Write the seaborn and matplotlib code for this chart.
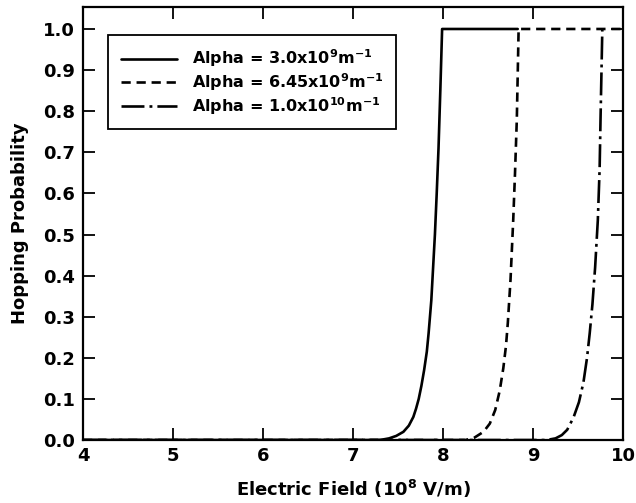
import numpy as np
import pandas as pd
import matplotlib
matplotlib.use("Agg")
import matplotlib.pyplot as plt
import seaborn as sns

# Hopping probability vs. electric field (10^8 V/m) for three decay constants
field_a = [4.0, 7.30, 7.40, 7.48, 7.56, 7.62, 7.67, 7.70, 7.73, 7.76, 7.79, 7.82,
           7.84, 7.87, 7.89, 7.91, 7.93, 7.95, 7.97, 7.99, 8.83]
prob_a = [0.0, 0.0, 0.004, 0.010, 0.020, 0.035, 0.056, 0.076, 0.100, 0.132, 0.170, 0.215,
          0.26, 0.34, 0.42, 0.50, 0.60, 0.71, 0.85, 1.0, 1.0]

field_b = [4.0, 8.25, 8.35, 8.45, 8.52, 8.58, 8.63, 8.67, 8.70, 8.72, 8.75, 8.78,
           8.80, 8.82, 8.83, 8.84, 10.0]
prob_b = [0.0, 0.0, 0.006, 0.020, 0.040, 0.073, 0.12, 0.175, 0.23, 0.285, 0.39, 0.535,
          0.65, 0.78, 0.89, 1.0, 1.0]

field_c = [4.0, 9.15, 9.25, 9.32, 9.38, 9.45, 9.51, 9.56, 9.60, 9.63, 9.66, 9.69,
           9.72, 9.74, 9.75, 9.76, 9.77]
prob_c = [0.0, 0.0, 0.004, 0.012, 0.025, 0.055, 0.092, 0.14, 0.20, 0.26, 0.33, 0.42,
          0.535, 0.66, 0.78, 0.89, 1.0]

labels = [r"Alpha = 3.0x10$^{9}$m$^{-1}$",
          r"Alpha = 6.45x10$^{9}$m$^{-1}$",
          r"Alpha = 1.0x10$^{10}$m$^{-1}$"]
x_ticks = [4, 5, 6, 7, 8, 9, 10]
y_ticks = [0.0, 0.1, 0.2, 0.3, 0.4, 0.5, 0.6, 0.7, 0.8, 0.9, 1.0]

sns.set_style("ticks")
plt.rcParams["font.family"] = ["DejaVu Sans"]
plt.rcParams["font.weight"] = "bold"
plt.rcParams["mathtext.fontset"] = "dejavusans"
plt.rcParams["mathtext.default"] = "bf"
plt.rcParams["text.color"] = "black"
plt.rcParams["axes.labelcolor"] = "black"
plt.rcParams["xtick.color"] = "black"
plt.rcParams["ytick.color"] = "black"

fig, ax = plt.subplots(figsize=(6.36, 5.03), dpi=100)
fig.subplots_adjust(left=0.1305, right=0.9796, bottom=0.1252, top=0.9861)

series = [
    (field_a, prob_a, labels[0], "-"),
    (field_b, prob_b, labels[1], (0, (3.5, 2.2))),
    (field_c, prob_c, labels[2], (0, (8.7, 1.9, 1.1, 1.9))),
]
for fx, py, lab, ls in series:
    df = pd.DataFrame({"field": fx, "prob": py})
    sns.lineplot(data=df, x="field", y="prob", ax=ax, color="black",
                 linewidth=1.9, linestyle=ls, label=lab, sort=False,
                 estimator=None)

ax.set_xlim(4, 10)
ax.set_ylim(0, 1.0535)
ax.set_xticks(x_ticks)
ax.set_xticklabels([str(t) for t in x_ticks])
ax.set_yticks(y_ticks)
ax.set_yticklabels([f"{t:.1f}" for t in y_ticks])
ax.tick_params(direction="in", length=8.6, width=1.3, top=True, right=True,
               labelsize=13, colors="black", labelcolor="black")
ax.tick_params(axis="x", pad=5)
ax.tick_params(axis="y", pad=6)
for sp in ax.spines.values():
    sp.set_visible(True)
    sp.set_linewidth(1.6)
    sp.set_color("black")

ax.set_xlabel(r"Electric Field (10$^{8}$ V/m)", fontsize=13, fontweight="bold",
              labelpad=9, color="black")
ax.set_ylabel("Hopping Probability", fontsize=13, fontweight="bold",
              labelpad=10, color="black")

leg = ax.legend(loc="upper left", bbox_to_anchor=(0.047, 0.935), borderaxespad=0,
                frameon=True, fancybox=False, shadow=False, fontsize=11.5,
                handlelength=3.5, handletextpad=0.95, labelspacing=0.12,
                borderpad=0.78)
leg.get_frame().set_edgecolor("black")
leg.get_frame().set_linewidth(1.3)
leg.get_frame().set_alpha(1)
for t in leg.get_texts():
    t.set_fontweight("bold")
    t.set_color("black")

fig.savefig("out.png", dpi=100)
